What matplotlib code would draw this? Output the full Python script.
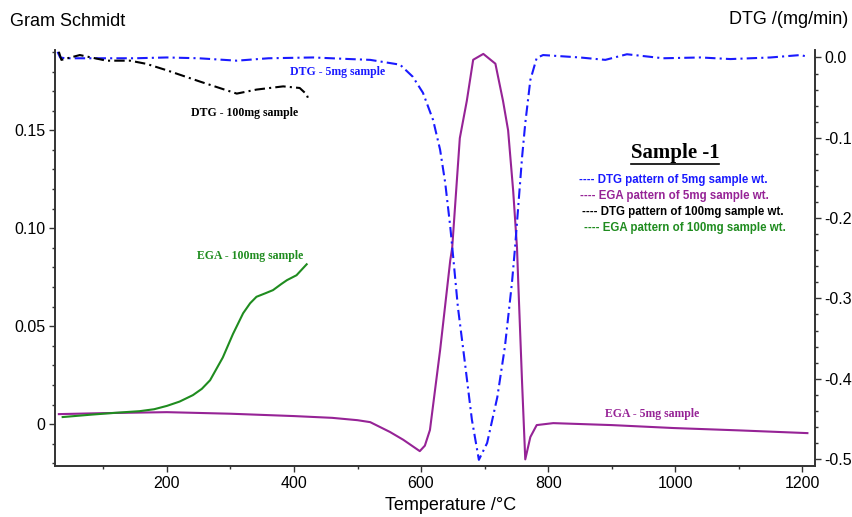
import matplotlib
matplotlib.use("Agg")
import matplotlib.pyplot as plt
from matplotlib.ticker import MultipleLocator, FixedLocator, FixedFormatter
from matplotlib.lines import Line2D

plt.rcParams['font.family'] = ['Liberation Sans', 'DejaVu Sans']
plt.rcParams['axes.unicode_minus'] = False

# EGA 5mg sample (Gram Schmidt, left axis)
ega5_t = [30, 100, 200, 300, 400, 460, 500, 520, 551, 572, 598, 606, 614, 630, 646, 649,
          661, 672, 682, 698, 717, 729, 737, 745, 751, 753, 759, 764, 772, 782, 808,
          900, 997, 1100, 1208]
ega5_v = [0.0051, 0.0056, 0.0061, 0.0053, 0.0041, 0.0032, 0.002, 0.001, -0.004, -0.008,
          -0.0138, -0.011, -0.003, 0.0378, 0.0837, 0.090, 0.146, 0.165, 0.186, 0.189,
          0.184, 0.165, 0.150, 0.119, 0.090, 0.072, 0.021, -0.018, -0.0066, -0.0005,
          0.0005, -0.0005, -0.002, -0.0032, -0.0046]

# EGA 100mg sample (left axis)
ega100_t = [36, 80, 120, 157, 180, 200, 220, 241, 255, 268, 288, 304, 320, 331,
            341, 355, 367, 380, 389, 404, 420]
ega100_v = [0.0036, 0.0048, 0.0058, 0.0066, 0.0076, 0.0093, 0.0115, 0.0148,
            0.018, 0.0224, 0.034, 0.046, 0.0566, 0.0617, 0.065, 0.0668, 0.0684, 0.0715,
            0.0735, 0.076, 0.0816]

# DTG 5mg sample (right axis)
dtg5_t = [28, 32, 40, 100, 150, 200, 250, 310, 360, 430, 488, 520, 567, 587, 603, 619,
          630, 638, 646, 651, 658, 669, 680, 691, 704, 720, 732, 743, 748, 759, 764,
          772, 782, 792, 850, 890, 924, 981, 1040, 1087, 1150, 1197, 1208]
dtg5_v = [0.007, 0.0, -0.001, -0.001, -0.001, 0.0, -0.001, -0.004, -0.001, 0.0, -0.002,
          -0.003, -0.009, -0.024, -0.044, -0.078, -0.115, -0.156, -0.211, -0.252,
          -0.311, -0.380, -0.451, -0.501, -0.48, -0.423, -0.36, -0.281, -0.236, -0.124,
          -0.082, -0.028, -0.0006, 0.003, 0.0, -0.003, 0.004, -0.001, 0.0, -0.002,
          0.0, 0.003, 0.001]

# DTG 100mg sample (right axis)
dtg100_t = [30, 34, 63, 105, 142, 168, 200, 252, 310, 341, 383, 409, 420, 424]
dtg100_v = [0.007, -0.003, 0.003, -0.004, -0.004, -0.008, -0.016, -0.030, -0.045,
            -0.040, -0.036, -0.038, -0.046, -0.055]

blue = '#1a1aff'
purple = '#962396'
green = '#1f8c1f'

fig = plt.figure(figsize=(8.52, 5.17), dpi=100)
ax = fig.add_axes([0.0646, 0.0986, 0.892, 0.8047])
ax2 = ax.twinx()

ax.plot(ega5_t, ega5_v, color=purple, lw=1.5)
ax.plot(ega100_t, ega100_v, color=green, lw=1.5)
ax2.plot(dtg5_t, dtg5_v, color=blue, lw=1.5, dashes=[5, 2, 1, 2])
ax2.plot(dtg100_t, dtg100_v, color='black', lw=1.5, dashes=[5, 2, 1, 2])

ax.set_xlim(24, 1220)
ax.set_ylim(-0.0214, 0.191)
ax2.set_ylim(-0.5087, 0.0093)

ax.xaxis.set_major_locator(FixedLocator([200, 400, 600, 800, 1000, 1200]))
ax.xaxis.set_minor_locator(MultipleLocator(100))
ax.yaxis.set_major_locator(FixedLocator([0, 0.05, 0.10, 0.15]))
ax.yaxis.set_major_formatter(FixedFormatter(['0', '0.05', '0.10', '0.15']))
ax.yaxis.set_minor_locator(MultipleLocator(0.01))
ax2.yaxis.set_major_locator(FixedLocator([0.0, -0.1, -0.2, -0.3, -0.4, -0.5]))
ax2.yaxis.set_major_formatter(FixedFormatter(['0.0', '-0.1', '-0.2', '-0.3', '-0.4', '-0.5']))
ax2.yaxis.set_minor_locator(MultipleLocator(0.02))

for a in (ax, ax2):
    a.spines['top'].set_visible(False)
    for s in ('left', 'right', 'bottom'):
        a.spines[s].set_color('#333333')
        a.spines[s].set_linewidth(1.2)
    a.tick_params(which='major', length=4, width=1, color='#333333', labelsize=11.5, pad=3)
    a.tick_params(which='minor', length=2.5, width=1, color='#333333')

serif = ['Liberation Serif', 'DejaVu Serif']
ax.text(468, 0.180, 'DTG - 5mg sample', color=blue, fontsize=8.5, fontweight='bold',
        family=serif, ha='center', va='center')
ax.text(323, 0.159, 'DTG - 100mg sample', color='black', fontsize=8.5, fontweight='bold',
        family=serif, ha='center', va='center')
ax.text(331, 0.086, 'EGA - 100mg sample', color=green, fontsize=8.5, fontweight='bold',
        family=serif, ha='center', va='center')
ax.text(964, 0.005, 'EGA - 5mg sample', color=purple, fontsize=8.5, fontweight='bold',
        family=serif, ha='center', va='center')

title = fig.text(675 / 852, 1 - 153 / 517, 'Sample -1', fontsize=15, fontweight='bold',
                 family=serif, ha='center', va='center')

legend_lines = ['---- DTG pattern of 5mg sample wt.',
                '---- EGA pattern of 5mg sample wt.',
                '---- DTG pattern of 100mg sample wt.',
                '---- EGA pattern of 100mg sample wt.']
legend_colors = [blue, purple, 'black', green]
legend_x = [673, 674, 683, 685]
legend_y = [180, 196, 212, 228]
for txt, c, lx, ly in zip(legend_lines, legend_colors, legend_x, legend_y):
    fig.text(lx / 852, 1 - ly / 517, txt, color=c, fontsize=8.3, fontweight='bold',
             ha='center', va='center')

fig.text(10 / 852, 1 - 22 / 517, 'Gram Schmidt', fontsize=13, ha='left', va='center')
fig.text(848 / 852, 1 - 20 / 517, 'DTG /(mg/min)', fontsize=13, ha='right', va='center')
fig.text(451 / 852, 1 - 506 / 517, 'Temperature /°C', fontsize=13, ha='center', va='center')

# underline for the "Sample -1" heading
fig.canvas.draw()
bb = title.get_window_extent()
ul_y = bb.y0 - 1
fig.add_artist(Line2D([bb.x0 / 852, bb.x1 / 852], [ul_y / 517, ul_y / 517],
                      color='black', lw=1.2, transform=fig.transFigure))

fig.savefig('out.png', dpi=100)
